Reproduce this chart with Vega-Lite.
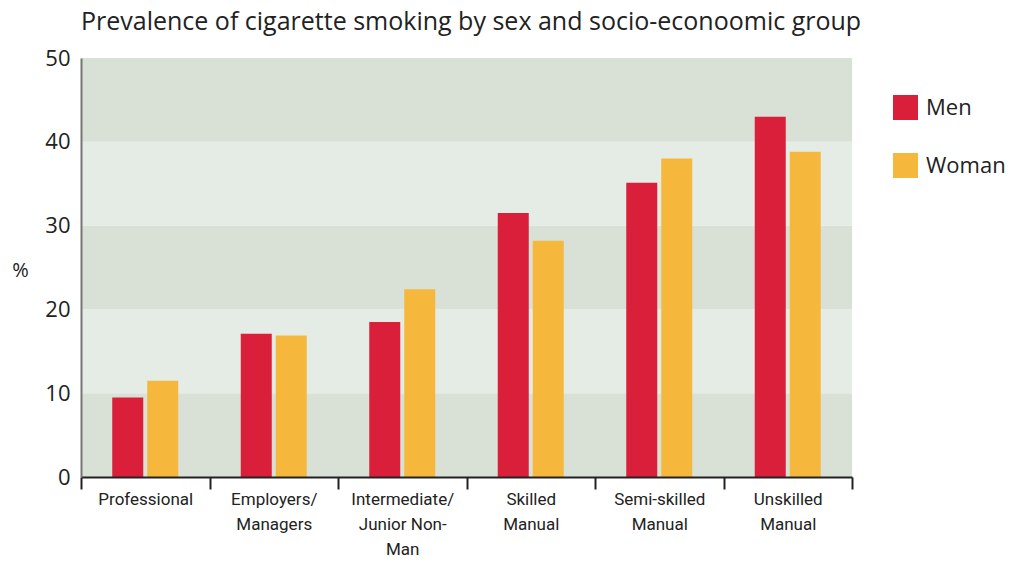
{
  "$schema": "https://vega.github.io/schema/vega-lite/v6.json",
  "autosize": "none",
  "width": 771,
  "height": 419,
  "padding": {"left": 81, "top": 58, "right": 163, "bottom": 85},
  "background": "white",
  "title": {
    "text": "Prevalence of cigarette smoking by sex and socio-econoomic group",
    "anchor": "start",
    "frame": "group",
    "offset": 12,
    "dy": 25,
    "baseline": "bottom",
    "font": "Open Sans",
    "fontSize": 25,
    "fontWeight": "normal",
    "color": "#222222"
  },
  "config": {
    "view": {"stroke": null},
    "font": "Open Sans"
  },
  "datasets": {
    "bands": [
      {"from": 0, "to": 10, "shade": "dark"},
      {"from": 10, "to": 20, "shade": "light"},
      {"from": 20, "to": 30, "shade": "dark"},
      {"from": 30, "to": 40, "shade": "light"},
      {"from": 40, "to": 50, "shade": "dark"}
    ],
    "smoking": [
      {"group": "Professional", "sex": "Men", "pct": 9.5},
      {"group": "Professional", "sex": "Woman", "pct": 11.5},
      {"group": "Employers/\nManagers", "sex": "Men", "pct": 17.1},
      {"group": "Employers/\nManagers", "sex": "Woman", "pct": 16.9},
      {"group": "Intermediate/\nJunior Non-\nMan", "sex": "Men", "pct": 18.5},
      {"group": "Intermediate/\nJunior Non-\nMan", "sex": "Woman", "pct": 22.4},
      {"group": "Skilled\nManual", "sex": "Men", "pct": 31.5},
      {"group": "Skilled\nManual", "sex": "Woman", "pct": 28.2},
      {"group": "Semi-skilled\nManual", "sex": "Men", "pct": 35.1},
      {"group": "Semi-skilled\nManual", "sex": "Woman", "pct": 38.0},
      {"group": "Unskilled\nManual", "sex": "Men", "pct": 43.0},
      {"group": "Unskilled\nManual", "sex": "Woman", "pct": 38.8}
    ]
  },
  "layer": [
    {
      "data": {"name": "bands"},
      "mark": {"type": "rect"},
      "encoding": {
        "y": {"field": "from", "type": "quantitative", "scale": {"domain": [0, 50]}},
        "y2": {"field": "to"},
        "fill": {
          "field": "shade",
          "type": "nominal",
          "scale": {"domain": ["dark", "light"], "range": ["#D9E1D6", "#E5ECE5"]},
          "legend": null
        }
      }
    },
    {
      "data": {"name": "smoking"},
      "mark": {"type": "bar"},
      "encoding": {
        "x": {
          "field": "group",
          "type": "nominal",
          "sort": null,
          "scale": {"paddingInner": 0, "paddingOuter": 0},
          "axis": {
            "title": null,
            "labelAngle": 0,
            "labelExpr": "split(datum.label, '\\n')",
            "labelFont": "Roboto",
            "labelFontSize": 17,
            "labelLineHeight": 25,
            "labelColor": "#222222",
            "labelPadding": 2,
            "labelBaseline": "top",
            "domainColor": "#222222",
            "domainWidth": 2,
            "ticks": true,
            "tickBand": "extent",
            "tickSize": 12,
            "tickWidth": 2,
            "tickColor": "#222222",
            "zindex": 1
          }
        },
        "xOffset": {
          "field": "sex",
          "type": "nominal",
          "scale": {"paddingInner": 0.114, "paddingOuter": 0.893}
        },
        "y": {
          "field": "pct",
          "type": "quantitative",
          "scale": {"domain": [0, 50]},
          "axis": {
            "title": "%",
            "titleAngle": 0,
            "titleX": -61,
            "titleY": 212,
            "titleAlign": "center",
            "titleBaseline": "middle",
            "titleFontSize": 20,
            "titleFontWeight": "normal",
            "titleColor": "#222222",
            "values": [0, 10, 20, 30, 40, 50],
            "grid": false,
            "ticks": false,
            "labelFontSize": 22,
            "labelColor": "#222222",
            "labelPadding": 11,
            "domainColor": "#777777",
            "domainWidth": 2,
            "zindex": 1
          }
        },
        "color": {
          "field": "sex",
          "type": "nominal",
          "scale": {"domain": ["Men", "Woman"], "range": ["#DA1F3A", "#F5B83D"]},
          "legend": {
            "title": null,
            "orient": "none",
            "legendX": 812,
            "legendY": 37,
            "symbolType": "square",
            "symbolSize": 625,
            "symbolStrokeWidth": 0,
            "labelFontSize": 22,
            "labelColor": "#222222",
            "labelOffset": 8,
            "rowPadding": 33
          }
        }
      }
    }
  ],
  "resolve": {"scale": {"x": "independent"}}
}
